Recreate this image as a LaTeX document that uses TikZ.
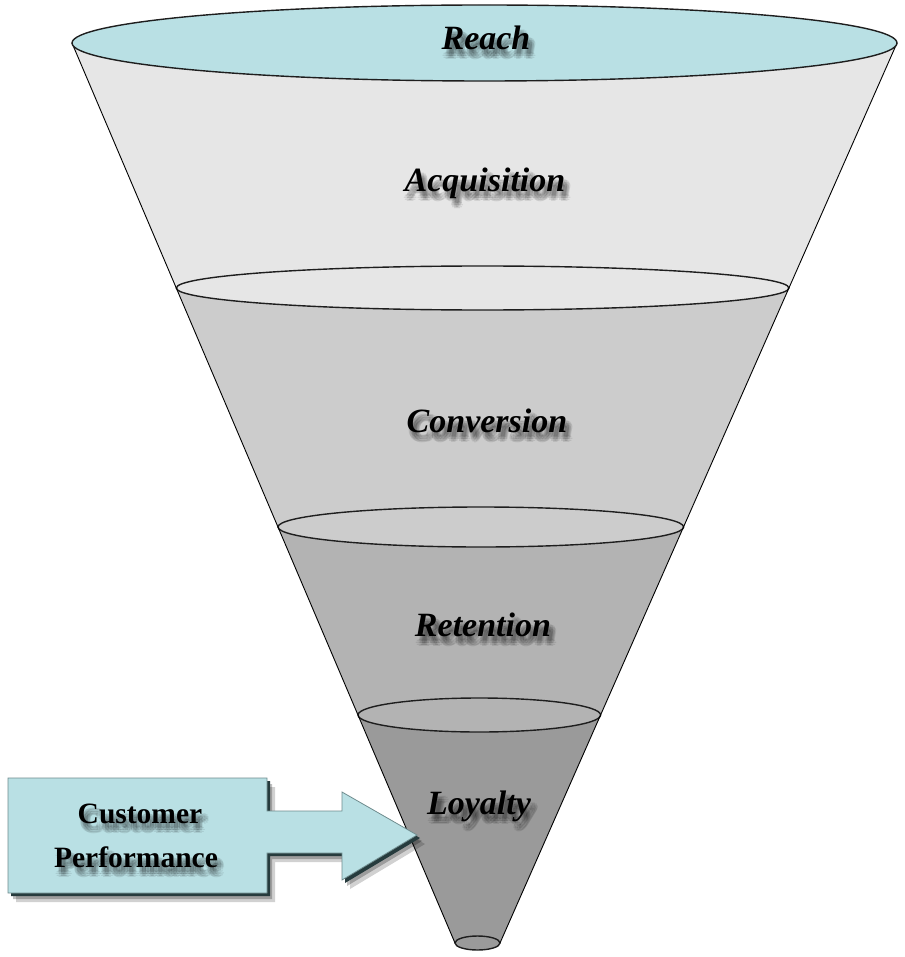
\documentclass[tikz,border=0pt]{standalone}
\usepackage{fontspec}
\setmainfont{Liberation Serif}
\definecolor{capcyan}{HTML}{B9E0E4}
\definecolor{bandA}{HTML}{E6E6E6}
\definecolor{bandB}{HTML}{CCCCCC}
\definecolor{bandC}{HTML}{B3B3B3}
\definecolor{bandD}{HTML}{9A9A9A}
\definecolor{rimcol}{HTML}{1E1E1E}
\definecolor{bevel}{HTML}{263B3D}
\definecolor{boxedge}{HTML}{6F8C8E}
\newcommand\shlabel[5]{%
  \foreach \dx/\dy in {2/5,6/5,2/9,6/9,4/7,4/4,4/10,1/7,7/7}{%
    \node[#5,text opacity=0.085] at (#2+\dx,#3+\dy) {#4};}%
  \node[#5] (#1) at (#2,#3) {#4};}
\begin{document}
\begin{tikzpicture}[x=1pt,y=-1pt,
  rim/.style={draw=rimcol,line width=1.4pt},
  side/.style={draw=black,line width=0.9pt},
  lbl/.style={font=\fontsize{34}{40}\selectfont\bfseries\itshape,anchor=base,inner sep=0pt},
  boxlbl/.style={font=\fontsize{29.5}{34}\selectfont\bfseries,anchor=base,inner sep=0pt}]
\useasboundingbox (0,0) rectangle (904,957);
% cone edge points
\coordinate (L1) at (72,43);   \coordinate (R1) at (897,43);
\coordinate (L2) at (176.3,288); \coordinate (R2) at (788.9,288);
\coordinate (L3) at (278,527);  \coordinate (R3) at (683.5,527);
\coordinate (L4) at (358,715);  \coordinate (R4) at (600.6,715);
\coordinate (L5) at (455,943);  \coordinate (R5) at (500,943);
% bands
\fill[bandA] (L1)--(L2)--(R2)--(R1)--cycle;
\fill[bandB] (L2)--(L3)--(R3)--(R2)--cycle;
\fill[bandC] (L3)--(L4)--(R4)--(R3)--cycle;
\fill[bandD] (L4)--(L5)--(R5)--(R4)--cycle;
% rims
\draw[rim,fill=bandD] (477.5,943) ellipse [x radius=22.5pt,y radius=7pt];
\draw[rim,fill=bandC] (479.3,715) ellipse [x radius=121.3pt,y radius=17pt];
\draw[rim,fill=bandB] (480.8,527) ellipse [x radius=202.8pt,y radius=20pt];
\draw[rim,fill=bandA] (482.6,288) ellipse [x radius=306.3pt,y radius=22pt];
% sides
\draw[side] (L1)--(L5);
\draw[side] (R1)--(R5);
% top
\draw[rim,fill=capcyan] (484.5,43) ellipse [x radius=412.5pt,y radius=38pt];
% labels
\shlabel{reach}{486}{50}{Reach}{lbl}
\shlabel{acq}{485}{192}{Acquisition}{lbl}
\shlabel{conv}{487}{432}{Conversion}{lbl}
\shlabel{ret}{483}{636}{Retention}{lbl}
\shlabel{loy}{479}{814}{Loyalty}{lbl}
% arrow box
\def\arrowpath{(8,778)--(267,778)--(267,811)--(342,811)--(342,792)--(417,835)--(342,880)--(342,853)--(267,853)--(267,893)--(8,893)--cycle}
\begin{scope}[shift={(8,9)}]
  \fill[black,opacity=0.18] \arrowpath;
\end{scope}
\begin{scope}[shift={(5,6)}]
  \fill[black,opacity=0.25] \arrowpath;
\end{scope}
\begin{scope}[shift={(3,3)}]
  \fill[bevel] \arrowpath;
\end{scope}
\fill[capcyan,draw=boxedge,line width=0.8pt] \arrowpath;
\shlabel{cust}{140}{823}{Customer}{boxlbl}
\shlabel{perf}{136}{867}{Performance}{boxlbl}
\end{tikzpicture}
\end{document}
